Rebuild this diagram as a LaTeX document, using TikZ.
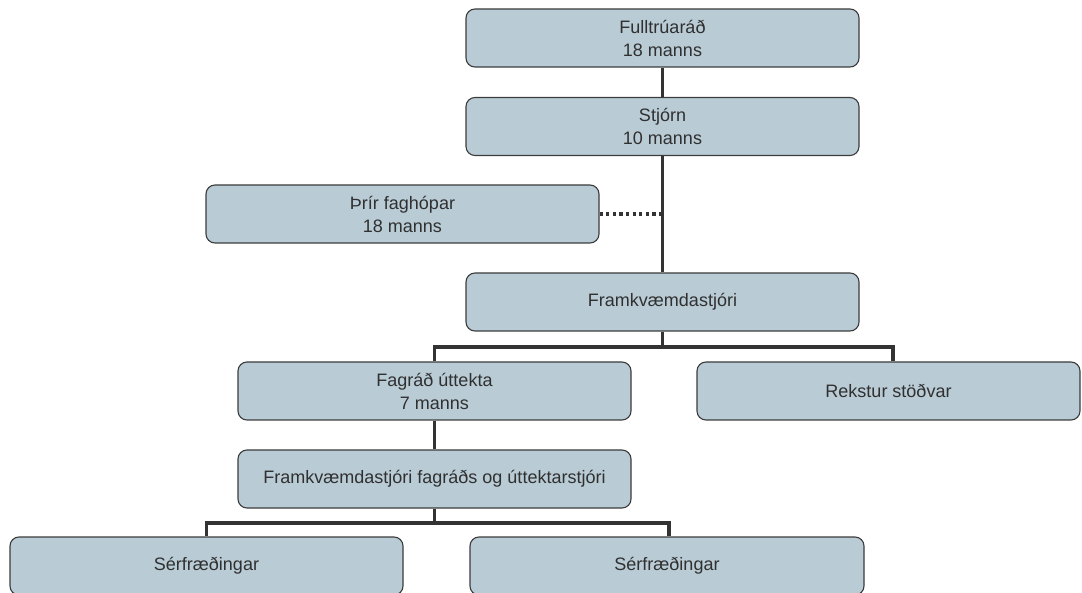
\documentclass[tikz,border=0pt]{standalone}
\usepackage{fontspec}
\setmainfont{Liberation Sans}
\definecolor{boxfill}{HTML}{B9CBD5}
\definecolor{boxline}{HTML}{3C3C3C}
\definecolor{conn}{HTML}{333333}
\definecolor{txt}{HTML}{303030}
\begin{document}
\begin{tikzpicture}[x=1pt,y=-1pt,
  orgbox/.style={draw=boxline,line width=1.1pt,fill=boxfill,rounded corners=9pt,
    minimum height=58pt,inner sep=0pt,align=center,text=txt,
    font=\fontsize{18}{23}\selectfont},
  link/.style={draw=conn,line width=3.2pt},
  dotlink/.style={draw=conn,line width=3.2pt,dash pattern=on 3.2pt off 3.4pt}]
\useasboundingbox (0,0) rectangle (1082,593);
\node[orgbox,minimum width=393pt] (A) at (662.5,38) {Fulltrúaráð\\18 manns};
\node[orgbox,minimum width=393pt] (B) at (662.5,126.5) {Stjórn\\10 manns};
\node[orgbox,minimum width=393pt] (C) at (402.5,214) {Þrír faghópar\\18 manns};
\node[orgbox,minimum width=393pt] (D) at (662.5,302) {Framkvæmdastjóri};
\node[orgbox,minimum width=393pt] (E) at (434.5,391) {Fagráð úttekta\\7 manns};
\node[orgbox,minimum width=383pt] (F) at (888.5,391) {Rekstur stöðvar};
\node[orgbox,minimum width=393pt] (G) at (434.5,479) {Framkvæmdastjóri fagráðs og úttektarstjóri};
\node[orgbox,minimum width=393pt] (H) at (206.5,566) {Sérfræðingar};
\node[orgbox,minimum width=394pt] (I) at (667,566) {Sérfræðingar};
\coordinate (dj) at (662.5,347);
\coordinate (gj) at (434.5,523);
\coordinate (ctrunk) at (662.5,214);
\draw[link] (A.south) -- (B.north);
\draw[link] (B.south) -- (D.north);
\draw[dotlink] (C.east) -- (ctrunk);
\draw[link] (D.south) -- (dj);
\draw[link] (E.north) |- (dj) -| (F.north -| 893,0);
\draw[link] (E.south) -- (G.north);
\draw[link] (G.south) -- (gj);
\draw[link] (H.north) |- (gj) -| (I.north -| 669,0);
\end{tikzpicture}
\end{document}
